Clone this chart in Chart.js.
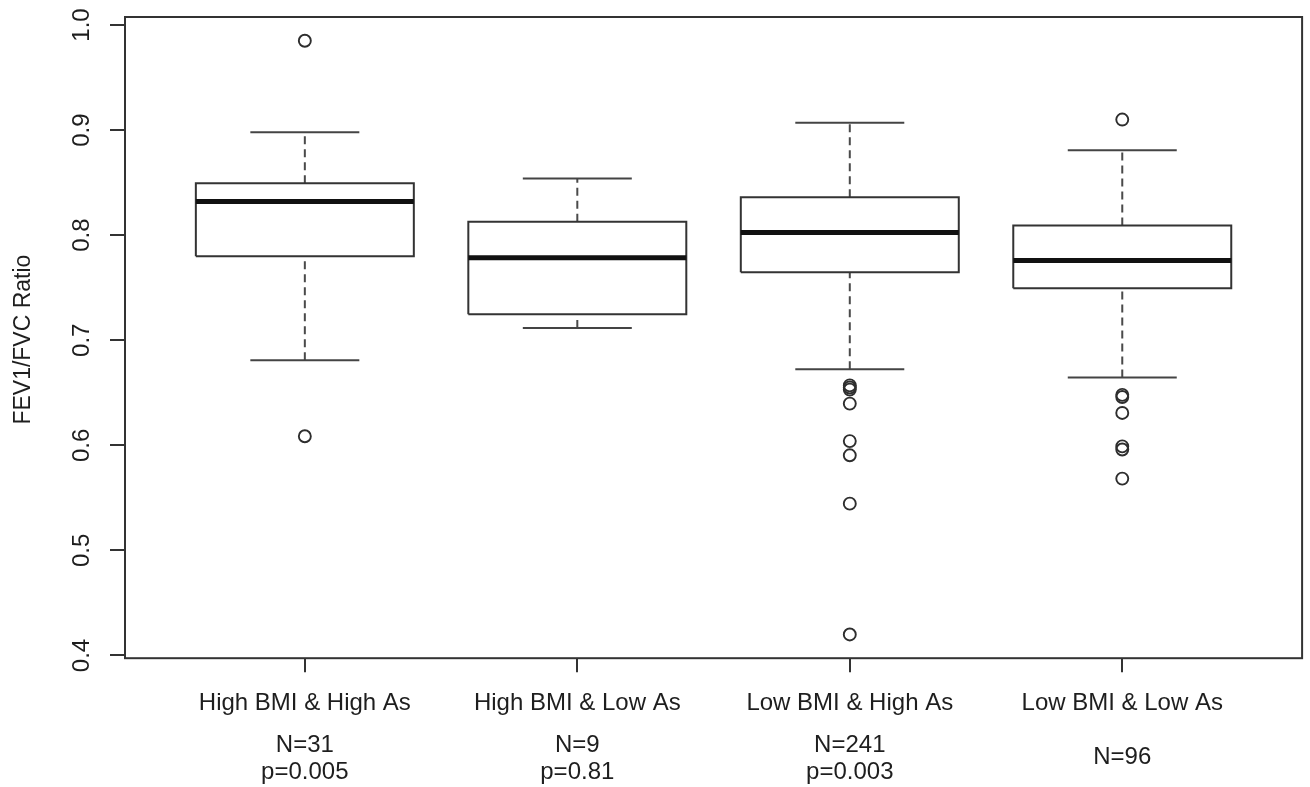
<!DOCTYPE html>
<html>
<head>
<meta charset="utf-8">
<script src="https://cdn.jsdelivr.net/npm/chart.js@4.4.1/dist/chart.umd.min.js"></script>
<style>
  html, body { margin: 0; padding: 0; background: #ffffff; }
  #wrap { width: 1310px; height: 787px; }
</style>
</head>
<body>
<div id="wrap"><canvas id="c" width="1310" height="787"></canvas></div>
<script>
// ---- Data ----
const categories = ["High BMI & High As", "High BMI & Low As", "Low BMI & High As", "Low BMI & Low As"];
const nLabels = ["N=31", "N=9", "N=241", "N=96"];
const pLabels = ["p=0.005", "p=0.81", "p=0.003", ""];
const lowerWhisker = [0.681, 0.7117, 0.6724, 0.6645];
const q1Values = [0.780, 0.7248, 0.7648, 0.7495];
const medianValues = [0.832, 0.7784, 0.8026, 0.7759];
const q3Values = [0.8495, 0.8127, 0.836, 0.8092];
const upperWhisker = [0.898, 0.854, 0.907, 0.8807];
const outliers1 = [0.985, 0.6086];
const outliers2 = [];
const outliers3 = [0.657, 0.655, 0.653, 0.6397, 0.604, 0.5905, 0.5445, 0.42];
const outliers4 = [0.910, 0.648, 0.646, 0.6308, 0.599, 0.596, 0.5683];
const yTickValues = [0.4, 0.5, 0.6, 0.7, 0.8, 0.9, 1.0];
const yTickLabels = ["0.4", "0.5", "0.6", "0.7", "0.8", "0.9", "1.0"];
const yAxisTitle = "FEV1/FVC Ratio";

// ---- Styling constants ----
const FONT = "'Liberation Sans', Arial, Helvetica, sans-serif";
const INK = "#1e1e1e";
const BOX_HALF = 0.4;   // boxwex 0.8
const CAP_HALF = 0.2;   // staple
const allOutliers = [outliers1, outliers2, outliers3, outliers4];

// y range: data range extended by 4% (R style)
const allVals = [].concat(lowerWhisker, upperWhisker, ...allOutliers);
const dMin = Math.min(...allVals), dMax = Math.max(...allVals);
const ext = (dMax - dMin) * 0.04;
const yMin = dMin - ext, yMax = dMax + ext;
const xMin = 0.5 - 0.04 * categories.length, xMax = categories.length + 0.5 + 0.04 * categories.length;

const lineDs = (data, width, color, dash) => ({
  type: 'scatter',
  data: data,
  showLine: true,
  fill: false,
  tension: 0,
  pointRadius: 0,
  pointHoverRadius: 0,
  borderColor: color,
  borderWidth: width,
  borderDash: dash || [],
  borderJoinStyle: 'miter',
  borderCapStyle: 'butt',
  clip: false
});

const datasets = [];
// outliers (drawn on top)
const outlierPts = [];
allOutliers.forEach((arr, i) => arr.forEach(v => outlierPts.push({ x: i + 1, y: v })));
datasets.push({
  type: 'scatter',
  data: outlierPts,
  pointStyle: 'circle',
  pointRadius: 6,
  pointHoverRadius: 6,
  pointBorderWidth: 1.9,
  pointBackgroundColor: 'rgba(255,255,255,0)',
  pointBorderColor: '#2e2e2e',
  showLine: false
});

categories.forEach((c, i) => {
  const x = i + 1;
  // median
  datasets.push(lineDs([{ x: x - BOX_HALF, y: medianValues[i] }, { x: x + BOX_HALF, y: medianValues[i] }], 5, '#111111'));
  // box
  datasets.push(lineDs([
    { x: x - BOX_HALF, y: q1Values[i] }, { x: x + BOX_HALF, y: q1Values[i] },
    { x: x + BOX_HALF, y: q3Values[i] }, { x: x - BOX_HALF, y: q3Values[i] },
    { x: x - BOX_HALF, y: q1Values[i] }
  ], 2, '#333333'));
  // caps
  datasets.push(lineDs([{ x: x - CAP_HALF, y: upperWhisker[i] }, { x: x + CAP_HALF, y: upperWhisker[i] }], 2, '#444444'));
  datasets.push(lineDs([{ x: x - CAP_HALF, y: lowerWhisker[i] }, { x: x + CAP_HALF, y: lowerWhisker[i] }], 2, '#444444'));
  // whiskers (dashed)
  datasets.push(lineDs([{ x: x, y: q3Values[i] }, { x: x, y: upperWhisker[i] }], 2, '#4a4a4a', [8, 5]));
  datasets.push(lineDs([{ x: x, y: lowerWhisker[i] }, { x: x, y: q1Values[i] }], 2, '#4a4a4a', [8, 5]));
});

const decorPlugin = {
  id: 'decor',
  afterDraw(chart) {
    const ctx = chart.ctx;
    const a = chart.chartArea;
    const ys = chart.scales.y, xs = chart.scales.x;
    ctx.save();
    // frame
    ctx.strokeStyle = '#333333';
    ctx.lineWidth = 2;
    ctx.strokeRect(a.left, a.top, a.right - a.left, a.bottom - a.top);
    // y tick labels (rotated, R style)
    ctx.fillStyle = INK;
    ctx.font = "24px " + FONT;
    ctx.textAlign = 'center';
    ctx.textBaseline = 'middle';
    yTickValues.forEach((v, k) => {
      const py = ys.getPixelForValue(v);
      ctx.save();
      ctx.translate(a.left - 43, py);
      ctx.rotate(-Math.PI / 2);
      ctx.fillText(yTickLabels[k], 0, 0);
      ctx.restore();
    });
    // y axis title
    ctx.save();
    ctx.font = "23px " + FONT;
    ctx.translate(24, (a.top + a.bottom) / 2 + 2);
    ctx.rotate(-Math.PI / 2);
    ctx.fillText(yAxisTitle, 0, 0);
    ctx.restore();
    // N / p annotations
    ctx.font = "24px " + FONT;
    categories.forEach((c, i) => {
      const px = xs.getPixelForValue(i + 1);
      if (pLabels[i]) {
        ctx.fillText(nLabels[i], px, a.bottom + 87);
        ctx.fillText(pLabels[i], px, a.bottom + 114);
      } else {
        ctx.fillText(nLabels[i], px, a.bottom + 99);
      }
    });
    ctx.restore();
  }
};

new Chart(document.getElementById('c'), {
  type: 'scatter',
  data: { datasets: datasets },
  options: {
    responsive: false,
    animation: false,
    layout: { padding: { left: 110, right: 6, top: 17, bottom: 52 } },
    plugins: { legend: { display: false }, tooltip: { enabled: false } },
    scales: {
      x: {
        type: 'linear',
        min: xMin,
        max: xMax,
        afterBuildTicks: (s) => { s.ticks = categories.map((c, i) => ({ value: i + 1 })); },
        ticks: {
          autoSkip: false,
          maxRotation: 0,
          minRotation: 0,
          padding: 17,
          color: INK,
          font: { family: FONT, size: 24 },
          callback: (v, idx) => categories[idx]
        },
        grid: { drawOnChartArea: false, drawTicks: true, tickLength: 14, color: '#333333', lineWidth: 2 },
        border: { display: false }
      },
      y: {
        type: 'linear',
        min: yMin,
        max: yMax,
        afterBuildTicks: (s) => { s.ticks = yTickValues.map(v => ({ value: v })); },
        ticks: { display: false },
        grid: { drawOnChartArea: false, drawTicks: true, tickLength: 15, color: '#333333', lineWidth: 2 },
        border: { display: false }
      }
    }
  },
  plugins: [decorPlugin]
});
</script>
</body>
</html>
